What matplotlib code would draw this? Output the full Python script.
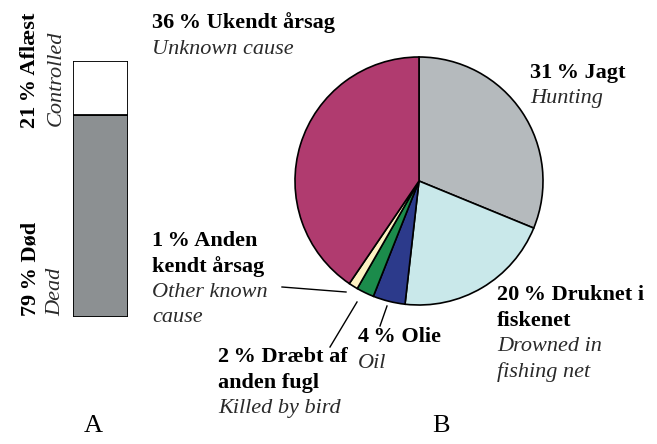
import matplotlib.pyplot as plt

plt.rcParams['font.family'] = ['Liberation Serif', 'DejaVu Serif']

# --- data ---
bar_labels = ['Død', 'Aflæst']
bar_values = [79, 21]
bar_colors = ['#8c9092', '#ffffff']

pie_names = ['Jagt', 'Druknet i fiskenet', 'Olie', 'Dræbt af anden fugl',
             'Anden kendt årsag', 'Ukendt årsag']
pie_shares = [31.2, 20.6, 4.2, 2.3, 1.2, 40.5]   # slice sizes as drawn
pie_colors = ['#b5babd', '#c9e8ea', '#2c3a8b', '#1b8b4b', '#fdf2c2', '#b03b6f']

W, H = 657, 444
fig = plt.figure(figsize=(W / 100, H / 100), dpi=100)


def px(x, y):
    return x / W, 1 - y / H


# --- A: stacked bar ---
axa = fig.add_axes([73 / W, (H - 317) / H, 55 / W, 256 / H])
bottom = 0
for v, c in zip(bar_values, bar_colors):
    axa.bar(0, v, bottom=bottom, width=1, color=c, edgecolor='black', linewidth=1.3)
    bottom += v
axa.set_xlim(-0.5, 0.5)
axa.set_ylim(0, 100)
axa.axis('off')

fs = 16
ital = '#2a2a2a'
fig.text(*px(30, 128), '21\u2009% Aflæst', rotation=90, fontsize=fs, fontweight='bold',
         ha='center', va='bottom')
fig.text(*px(56, 126), 'Controlled', rotation=90, fontsize=fs, fontstyle='italic',
         ha='center', va='bottom', color=ital)
fig.text(*px(30, 316), '79\u2009% Død', rotation=90, fontsize=fs, fontweight='bold',
         ha='center', va='bottom')
fig.text(*px(56, 316), 'Dead', rotation=90, fontsize=fs, fontstyle='italic',
         ha='center', va='bottom', color=ital)

# --- B: pie ---
cx, cy, r = 419, 181, 124
axb = fig.add_axes([(cx - r) / W, (H - cy - r) / H, 2 * r / W, 2 * r / H])
axb.pie(pie_shares, colors=pie_colors, startangle=90, counterclock=False,
        wedgeprops=dict(edgecolor='black', linewidth=1.2))
axb.set_xlim(-1, 1)
axb.set_ylim(-1, 1)
axb.set_aspect('auto')
axb.axis('off')


def label(x, y, bold_lines, ital_lines):
    yy = y
    for t in bold_lines:
        fig.text(*px(x, yy), t, fontsize=fs, fontweight='bold', va='baseline')
        yy += 25.5
    for t in ital_lines:
        fig.text(*px(x, yy), t, fontsize=fs, fontstyle='italic', va='baseline',
                 color=ital)
        yy += 25.5


label(152, 28, ['36\u2009% Ukendt årsag'], ['Unknown cause'])
label(530, 78, ['31\u2009% Jagt'], ['Hunting'])
label(497, 300, ['20\u2009% Druknet i', 'fiskenet'], ['Drowned in', 'fishing net'])
label(152, 246, ['1\u2009% Anden', 'kendt årsag'], ['Other known', 'cause'])
label(218, 362, ['2\u2009% Dræbt af', 'anden fugl'], ['Killed by bird'])
label(358, 342, ['4\u2009% Olie'], ['Oil'])

# leader lines
for (x0, y0), (x1, y1) in [((282, 287), (346, 292)),
                           ((330, 347), (357, 302)),
                           ((380, 326), (387, 306))]:
    fig.add_artist(plt.Line2D([x0 / W, x1 / W], [1 - y0 / H, 1 - y1 / H],
                              color='black', linewidth=1))

fig.text(*px(93, 432), 'A', fontsize=19, ha='center', va='baseline')
fig.text(*px(441, 432), 'B', fontsize=19, ha='center', va='baseline')

fig.savefig('out.png', dpi=100)
